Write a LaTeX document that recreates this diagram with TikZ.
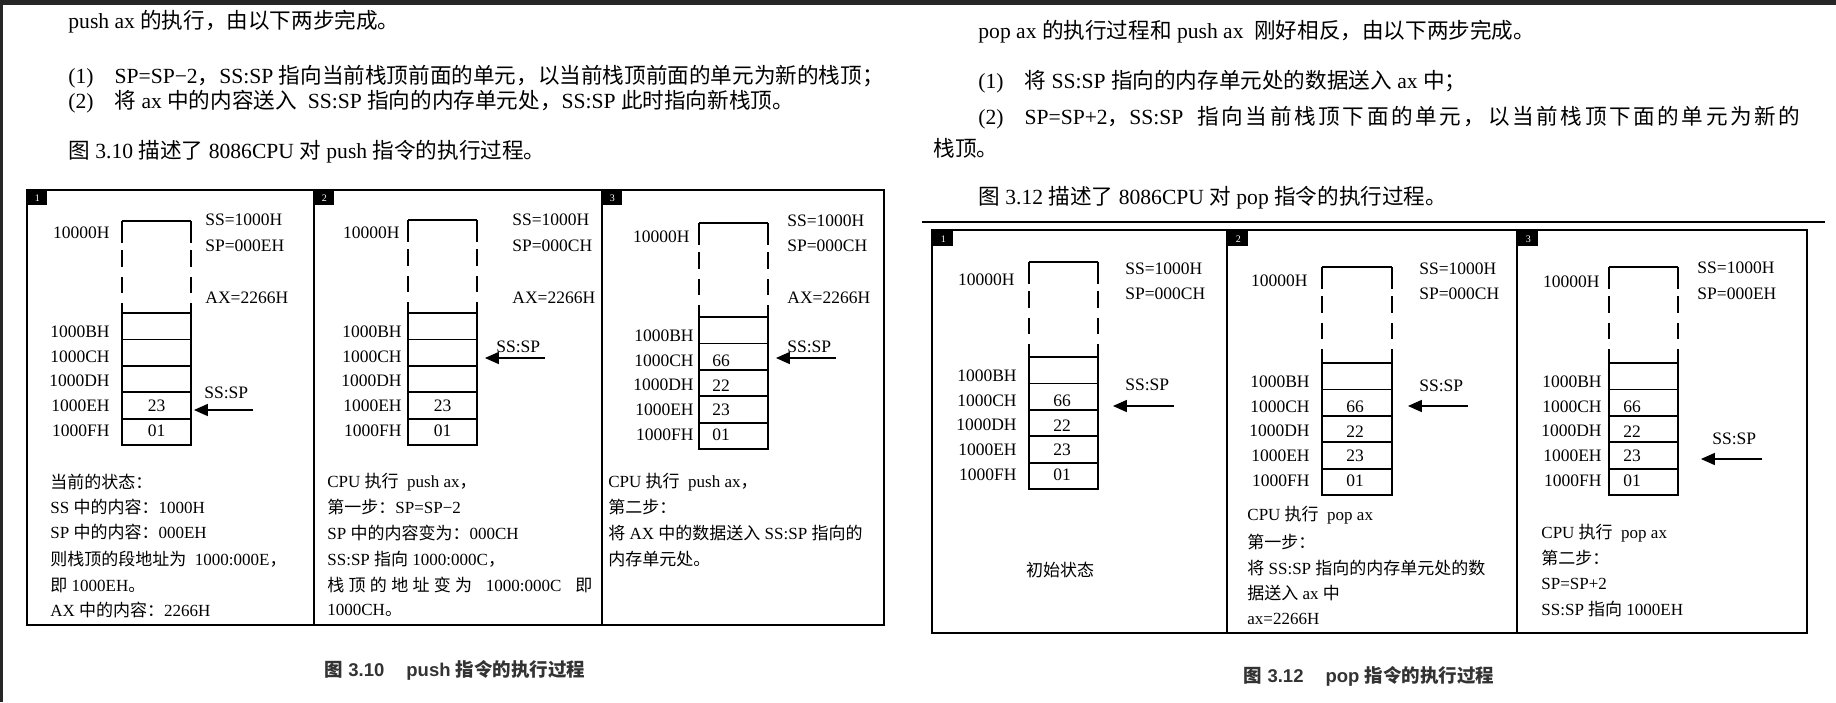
\documentclass[tikz,border=0pt]{standalone}
\usepackage{fontspec}
\setmainfont{Liberation Serif}
\setsansfont{Liberation Sans}
\newfontfamily\cjkfont{Noto Sans CJK SC}
\newcommand\latinfont{\rmfamily}
\usetikzlibrary{arrows.meta}

% CJK runs switch font by themselves
\newcount\cjkidx
\cjkidx="4E00
\loop \XeTeXcharclass\cjkidx=1 \ifnum\cjkidx<"9FFF \advance\cjkidx by 1 \repeat
\cjkidx="3000
\loop \XeTeXcharclass\cjkidx=3 \ifnum\cjkidx<"303F \advance\cjkidx by 1 \repeat
\cjkidx="FF00
\loop \XeTeXcharclass\cjkidx=3 \ifnum\cjkidx<"FFEF \advance\cjkidx by 1 \repeat
\XeTeXinterchartoks 0 1 = {\cjkfont}
\XeTeXinterchartoks 4095 1 = {\cjkfont}
\XeTeXinterchartoks 0 3 = {\cjkfont}
\XeTeXinterchartoks 4095 3 = {\cjkfont}
\XeTeXinterchartoks 1 0 = {\latinfont}
\XeTeXinterchartoks 1 4095 = {\latinfont}
\XeTeXinterchartoks 3 0 = {\latinfont}
\XeTeXinterchartoks 3 4095 = {\latinfont}
\XeTeXinterchartoks 1 1 = {\hskip 0pt plus 0.2em\relax}
\XeTeXinterchartoks 1 3 = {\hskip 0pt plus 0.2em\relax}
\XeTeXinterchartoks 3 1 = {\hskip 0pt plus 0.2em\relax}
\XeTeXinterchartokenstate=1

\tikzset{
  hdr/.style={anchor=west, inner sep=0pt, font=\fontsize{10.8}{12}\selectfont},
  txt/.style={anchor=west, inner sep=0pt, font=\fontsize{8.5}{10}\selectfont},
  addr/.style={anchor=east, inner sep=0pt, font=\fontsize{8.75}{10}\selectfont},
  reg/.style={anchor=west, inner sep=0pt, font=\fontsize{8.75}{10}\selectfont},
  val/.style={inner sep=0pt, font=\fontsize{8.75}{10}\selectfont},
  cell/.style={draw, line width=0.9pt, minimum width=34.5pt, minimum height=13.2pt, inner sep=0pt},
  tag/.style={fill=black, text=white, anchor=north west, minimum width=10pt, minimum height=7.5pt, inner sep=0pt, font=\fontsize{5}{5}\selectfont},
  frame/.style={line width=1.1pt},
  stacktop/.style={line width=0.9pt},
  stackside/.style={line width=0.9pt, dash pattern=on 11pt off 3.5pt on 8.5pt off 5pt on 8pt off 5pt on 20pt},
  ptr/.style={line width=0.8pt, -{Triangle[length=7pt,width=6pt]}},
  figcap/.style={inner sep=0pt, text=black!80, font={\sffamily\bfseries\let\latinfont\sffamily\fontsize{9.25}{10}\selectfont}}
}

\begin{document}
\begin{tikzpicture}[x=0.5pt, y=-0.5pt]
  \useasboundingbox (0,0) rectangle (1836,702);
  \fill[white] (0,0) rectangle (1836,702);
  \fill[black!85] (0,0) rectangle (1836,5);
  \fill[black!85] (0,0) rectangle (3,702);

  % left page text
  \node[hdr] (h1) at (68,22) {push ax 的执行，由以下两步完成。};
  \node[hdr] (h2) at (68,77) {(1)\hspace{10.5pt}SP=SP−2，SS:SP 指向当前栈顶前面的单元，以当前栈顶前面的单元为新的栈顶；};
  \node[hdr] (h3) at (68,102) {(2)\hspace{10.5pt}将 ax 中的内容送入\ \ SS:SP 指向的内存单元处，SS:SP 此时指向新栈顶。};
  \node[hdr] (h4) at (68,152) {图 3.10 描述了 8086CPU 对 push 指令的执行过程。};

  % right page text
  \node[hdr] (r1) at (978,32) {pop ax 的执行过程和 push ax\ \ 刚好相反，由以下两步完成。};
  \node[hdr] (r2) at (978,82) {(1)\hspace{10.5pt}将 SS:SP 指向的内存单元处的数据送入 ax 中；};
  \node[hdr] (r3) at (978,118) {\makebox[411pt][s]{(2)\hspace{10.5pt}SP=SP+2，SS:SP\ \ 指向当前栈顶下面的单元，以当前栈顶下面的单元为新的}};
  \node[hdr] (r4) at (933,148) {栈顶。};
  \node[hdr] (r5) at (978,198) {图 3.12 描述了 8086CPU 对 pop 指令的执行过程。};
  \draw[line width=0.8pt] (922,222) -- (1825,222);

  % push: frames
  \draw[frame] (27,190) rectangle (884,625);
  \draw[frame] (314,190) -- (314,625);
  \draw[frame] (602,190) -- (602,625);
  \node[tag] (p1n) at (27,190) {1};
  \node[tag] (p2n) at (314,190) {2};
  \node[tag] (p3n) at (602,190) {3};

  % push, state 1
  \draw[stacktop] (122,221) -- (191,221);
  \draw[stackside] (122,221) -- (122,313);
  \draw[stackside] (191,221) -- (191,313);
  \foreach \a [count=\k from 0] in {B,C,D,E,F} {
    \node[cell] (p1\a) at (156.5,{313+13.2+26.4*\k}) {};
    \node[addr] (p1l\a) at (110,{332+24.6*\k}) {1000\a H};
  }
  \node[addr] (p1top) at (110,233) {10000H};
  \node[val] (p1vE) at (156.5,405.8) {23};
  \node[val] (p1vF) at (156.5,430.4) {01};
  \node[reg] (p1ss) at (205,220) {SS=1000H};
  \node[reg] (p1sp) at (205,246) {SP=000EH};
  \node[reg] (p1ax) at (205,298) {AX=2266H};
  \node[reg] (p1k) at (204,393) {SS:SP};
  \coordinate (p1a) at (253,410);
  \draw[ptr, shorten >=1pt] (p1a) -- (p1a -| p1E.east);
  \node[txt] (p1t1) at (50,482) {当前的状态：};
  \node[txt] (p1t2) at (50,507) {SS 中的内容：1000H};
  \node[txt] (p1t3) at (50,532) {SP 中的内容：000EH};
  \node[txt] (p1t4) at (50,559) {则栈顶的段地址为\ \ 1000:000E，};
  \node[txt] (p1t5) at (50,585) {即 1000EH。};
  \node[txt] (p1t6) at (50,610) {AX 中的内容：2266H};

  % push, state 2
  \draw[stacktop] (408,220) -- (477,220);
  \draw[stackside] (408,220) -- (408,313);
  \draw[stackside] (477,220) -- (477,313);
  \foreach \a [count=\k from 0] in {B,C,D,E,F} {
    \node[cell] (p2\a) at (442.5,{313+13.2+26.4*\k}) {};
    \node[addr] (p2l\a) at (402,{332+24.6*\k}) {1000\a H};
  }
  \node[addr] (p2top) at (400,233) {10000H};
  \node[val] (p2vE) at (442.5,405.8) {23};
  \node[val] (p2vF) at (442.5,430.4) {01};
  \node[reg] (p2ss) at (512,220) {SS=1000H};
  \node[reg] (p2sp) at (512,246) {SP=000CH};
  \node[reg] (p2ax) at (512,298) {AX=2266H};
  \node[reg] (p2k) at (496,347) {SS:SP};
  \coordinate (p2a) at (545,358);
  \draw[ptr, shorten >=3.5pt] (p2a) -- (p2a -| p2C.east);
  \node[txt] (p2t1) at (327,482) {CPU 执行\ \ push ax，};
  \node[txt] (p2t2) at (327,507) {第一步：SP=SP−2};
  \node[txt] (p2t3) at (327,533) {SP 中的内容变为：000CH};
  \node[txt] (p2t4) at (327,559) {SS:SP 指向 1000:000C，};
  \node[txt] (p2t5) at (327,585) {\makebox[132.5pt][s]{栈顶的地址变为\ \ 1000:000C\ \ 即}};
  \node[txt] (p2t6) at (327,610) {1000CH。};

  % push, state 3
  \draw[stacktop] (699,223) -- (768,223);
  \draw[stackside] (699,223) -- (699,317);
  \draw[stackside] (768,223) -- (768,317);
  \foreach \a [count=\k from 0] in {B,C,D,E,F} {
    \node[cell] (p3\a) at (733.5,{317+13.2+26.4*\k}) {};
    \node[addr] (p3l\a) at (694,{336+24.6*\k}) {1000\a H};
  }
  \node[addr] (p3top) at (690,237) {10000H};
  \node[val, anchor=west] (p3vC) at (712,360.6) {66};
  \node[val, anchor=west] (p3vD) at (712,385.2) {22};
  \node[val, anchor=west] (p3vE) at (712,409.8) {23};
  \node[val, anchor=west] (p3vF) at (712,434.4) {01};
  \node[reg] (p3ss) at (787,221) {SS=1000H};
  \node[reg] (p3sp) at (787,246) {SP=000CH};
  \node[reg] (p3ax) at (787,298) {AX=2266H};
  \node[reg] (p3k) at (787,347) {SS:SP};
  \coordinate (p3a) at (836,358);
  \draw[ptr, shorten >=3.5pt] (p3a) -- (p3a -| p3C.east);
  \node[txt] (p3t1) at (608,482) {CPU 执行\ \ push ax，};
  \node[txt] (p3t2) at (608,507) {第二步：};
  \node[txt] (p3t3) at (608,533) {将 AX 中的数据送入 SS:SP 指向的};
  \node[txt] (p3t4) at (608,559) {内存单元处。};

  % pop: frames
  \draw[frame] (932,230) rectangle (1807,633);
  \draw[frame] (1227,230) -- (1227,633);
  \draw[frame] (1517,230) -- (1517,633);
  \node[tag] (q1n) at (933,231) {1};
  \node[tag] (q2n) at (1228,231) {2};
  \node[tag] (q3n) at (1518,231) {3};

  % pop, state 1
  \draw[stacktop] (1029,262) -- (1098,262);
  \draw[stackside] (1029,262) -- (1029,357);
  \draw[stackside] (1098,262) -- (1098,357);
  \foreach \a [count=\k from 0] in {B,C,D,E,F} {
    \node[cell] (q1\a) at (1063.5,{357+13.2+26.4*\k}) {};
    \node[addr] (q1l\a) at (1017,{376+24.6*\k}) {1000\a H};
  }
  \node[addr] (q1top) at (1015,280) {10000H};
  \node[val] (q1vC) at (1062,400.6) {66};
  \node[val] (q1vD) at (1062,425.2) {22};
  \node[val] (q1vE) at (1062,449.8) {23};
  \node[val] (q1vF) at (1062,474.4) {01};
  \node[reg] (q1ss) at (1125,269) {SS=1000H};
  \node[reg] (q1sp) at (1125,294) {SP=000CH};
  \node[reg] (q1k) at (1125,385) {SS:SP};
  \coordinate (q1a) at (1174,406);
  \draw[ptr, shorten >=7pt] (q1a) -- (q1a -| q1C.east);
  \node[txt, anchor=center] (q1t1) at (1060,570) {初始状态};

  % pop, state 2
  \draw[stacktop] (1322,267) -- (1392,267);
  \draw[stackside] (1322,267) -- (1322,363);
  \draw[stackside] (1392,267) -- (1392,363);
  \foreach \a [count=\k from 0] in {B,C,D,E,F} {
    \node[cell, minimum width=35pt] (q2\a) at (1357,{363+13.2+26.4*\k}) {};
    \node[addr] (q2l\a) at (1310,{382+24.6*\k}) {1000\a H};
  }
  \node[addr] (q2top) at (1308,281) {10000H};
  \node[val] (q2vC) at (1355,406.6) {66};
  \node[val] (q2vD) at (1355,431.2) {22};
  \node[val] (q2vE) at (1355,455.8) {23};
  \node[val] (q2vF) at (1355,480.4) {01};
  \node[reg] (q2ss) at (1419,269) {SS=1000H};
  \node[reg] (q2sp) at (1419,294) {SP=000CH};
  \node[reg] (q2k) at (1419,386) {SS:SP};
  \coordinate (q2a) at (1468,406);
  \draw[ptr, shorten >=7.5pt] (q2a) -- (q2a -| q2C.east);
  \node[txt] (q2t1) at (1247,515) {CPU 执行\ \ pop ax};
  \node[txt] (q2t2) at (1247,542) {第一步：};
  \node[txt] (q2t3) at (1247,568) {将 SS:SP 指向的内存单元处的数};
  \node[txt] (q2t4) at (1247,593) {据送入 ax 中};
  \node[txt] (q2t5) at (1247,619) {ax=2266H};

  % pop, state 3
  \draw[stacktop] (1609,267) -- (1678,267);
  \draw[stackside] (1609,267) -- (1609,363);
  \draw[stackside] (1678,267) -- (1678,363);
  \foreach \a [count=\k from 0] in {B,C,D,E,F} {
    \node[cell] (q3\a) at (1643.5,{363+13.2+26.4*\k}) {};
    \node[addr] (q3l\a) at (1602,{382+24.6*\k}) {1000\a H};
  }
  \node[addr] (q3top) at (1600,282) {10000H};
  \node[val, anchor=west] (q3vC) at (1623,406.6) {66};
  \node[val, anchor=west] (q3vD) at (1623,431.2) {22};
  \node[val, anchor=west] (q3vE) at (1623,455.8) {23};
  \node[val, anchor=west] (q3vF) at (1623,480.4) {01};
  \node[reg] (q3ss) at (1697,268) {SS=1000H};
  \node[reg] (q3sp) at (1697,294) {SP=000EH};
  \node[reg] (q3k) at (1712,439) {SS:SP};
  \coordinate (q3a) at (1762,459);
  \draw[ptr, shorten >=11pt] (q3a) -- (q3a -| q3E.east);
  \node[txt] (q3t1) at (1541,533) {CPU 执行\ \ pop ax};
  \node[txt] (q3t2) at (1541,558) {第二步：};
  \node[txt] (q3t3) at (1541,584) {SP=SP+2};
  \node[txt] (q3t4) at (1541,609) {SS:SP 指向 1000EH};

  % captions
  \node[figcap] (c1) at (455,670) {图 3.10\hspace{11pt}push 指令的执行过程};
  \node[figcap] (c2) at (1369,676) {图 3.12\hspace{11pt}pop 指令的执行过程};
\end{tikzpicture}
\end{document}
